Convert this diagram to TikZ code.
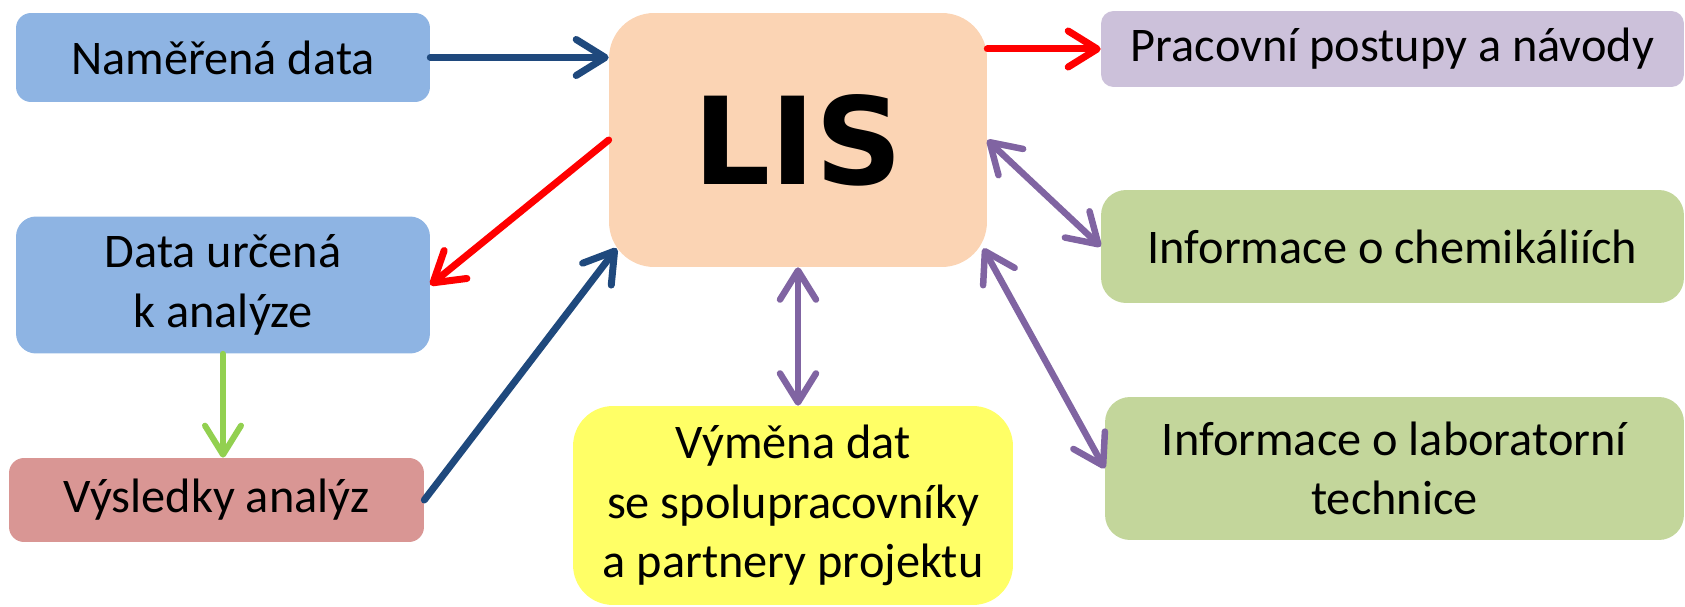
\documentclass[tikz,border=0pt]{standalone}
\usepackage{xcolor}
\usepackage{fontspec}
\setmainfont{Carlito}
\newfontfamily\lisfont{DejaVu Sans}
\usetikzlibrary{arrows.meta}

\definecolor{datablue}{HTML}{8EB4E3}
\definecolor{lispeach}{HTML}{FBD4B4}
\definecolor{lilac}{HTML}{CCC1DA}
\definecolor{olive}{HTML}{C3D69B}
\definecolor{rosy}{HTML}{D99694}
\definecolor{lemon}{HTML}{FFFF66}
\definecolor{navyarrow}{HTML}{1F497D}
\definecolor{violetarrow}{HTML}{8064A2}
\definecolor{limearrow}{HTML}{92D050}

\begin{document}
\begin{tikzpicture}[x=0.02cm, y=-0.02cm,
    box/.style={rounded corners=#1, align=center, inner sep=0pt,
      font=\fontsize{27.5}{34}\selectfont},
    box/.default=0.3cm,
    barb/.style={line width=0.14cm, line cap=round,
      -{Straight Barb[length=0.58cm, width=0.72cm, round]}},
    twobarb/.style={line width=0.13cm, line cap=round,
      {Straight Barb[length=0.58cm, width=0.72cm, round]}-{Straight Barb[length=0.58cm, width=0.72cm, round]}}
  ]
    \useasboundingbox (0,0) rectangle (1685,607);

    % Central system
    \node[box=0.9cm, fill=lispeach, minimum width=7.56cm, minimum height=5.08cm,
      font=\lisfont\bfseries\fontsize{69}{69}\selectfont] (lis) at (798,140) {LIS};

    % Left side
    \node[box, fill=datablue, minimum width=8.28cm, minimum height=1.78cm] (nam) at (223,57.5) {Naměřená data};
    \node[box=0.4cm, fill=datablue, minimum width=8.28cm, minimum height=2.74cm] (dat) at (223,285) {Data určená\\k analýze};
    \node[box, fill=rosy, minimum width=8.3cm, minimum height=1.68cm] (vys) at (216.5,500) {Výsledky analýz};

    % Bottom
    \node[box=0.8cm, fill=lemon, minimum width=8.8cm, minimum height=3.98cm] (vym) at (793,505.5) {Výměna dat\\se spolupracovníky\\a partnery projektu};

    % Right side
    \node[box=0.25cm, fill=lilac, minimum width=11.66cm, minimum height=1.52cm] (pra) at (1392.5,49) {Pracovní postupy a návody};
    \node[box=0.5cm, fill=olive, minimum width=11.66cm, minimum height=2.26cm] (che) at (1392.5,246.5) {Informace o chemikáliích};
    \node[box=0.5cm, fill=olive, minimum width=11.58cm, minimum height=2.86cm] (lab) at (1394.5,468.5) {Informace o laboratorní\\technice};

    % Data flows
    \draw[barb, navyarrow] (nam.east) -- (nam.east -| lis.west);
    \draw[barb, red] (lis.west) -- (dat.east);
    \draw[barb, limearrow, line width=0.12cm] (dat.south) -- (dat.south |- vys.north);
    \draw[barb, navyarrow] (vys.east) -- ([xshift=0.16cm, yshift=0.38cm]lis.south west);
    \draw[barb, red] (lis.east |- pra.west) -- (pra.west);

    % Two-way links
    \draw[twobarb, violetarrow] (lis.east) -- (che.west);
    \draw[twobarb, violetarrow] ([xshift=-0.08cm, yshift=0.38cm]lis.south east) -- (lab.west);
    \draw[twobarb, violetarrow] (lis.south) -- (lis.south |- vym.north);
\end{tikzpicture}
\end{document}
